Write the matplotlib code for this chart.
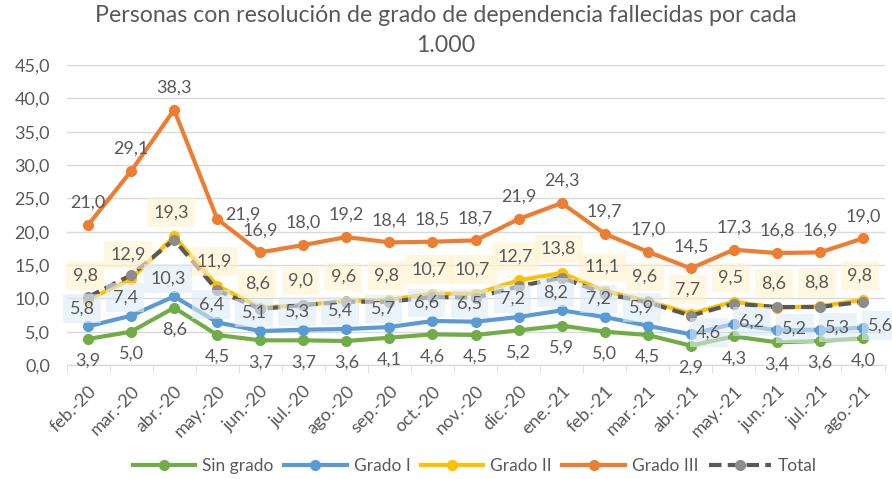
import matplotlib.pyplot as plt
from matplotlib.ticker import FixedLocator, FuncFormatter

plt.rcParams['font.family'] = ['Lato', 'DejaVu Sans']

TEXT = '#595959'

months = ['feb.-20', 'mar.-20', 'abr.-20', 'may.-20', 'jun.-20', 'jul.-20',
          'ago.-20', 'sep.-20', 'oct.-20', 'nov.-20', 'dic.-20', 'ene.-21',
          'feb.-21', 'mar.-21', 'abr.-21', 'may.-21', 'jun.-21', 'jul.-21',
          'ago.-21']

sin_grado = [3.9, 5.0, 8.6, 4.5, 3.7, 3.7, 3.6, 4.1, 4.6, 4.5, 5.2, 5.9,
             5.0, 4.5, 2.9, 4.3, 3.4, 3.6, 4.0]
grado_1 = [5.8, 7.4, 10.3, 6.4, 5.1, 5.3, 5.4, 5.7, 6.6, 6.5, 7.2, 8.2,
           7.2, 5.9, 4.6, 6.2, 5.2, 5.3, 5.6]
grado_2 = [9.8, 12.9, 19.3, 11.9, 8.6, 9.0, 9.6, 9.8, 10.7, 10.7, 12.7, 13.8,
           11.1, 9.6, 7.7, 9.5, 8.6, 8.8, 9.8]
grado_3 = [21.0, 29.1, 38.3, 21.9, 16.9, 18.0, 19.2, 18.4, 18.5, 18.7, 21.9,
           24.3, 19.7, 17.0, 14.5, 17.3, 16.8, 16.9, 19.0]
total = [10.2, 13.5, 18.8, 11.2, 8.4, 9.0, 9.5, 9.5, 10.2, 10.1, 11.8, 13.1,
         10.7, 9.4, 7.4, 9.2, 8.7, 8.7, 9.5]


def fmt(v):
    return f'{v:.1f}'.replace('.', ',')


fig = plt.figure(figsize=(8.92, 4.79), dpi=100)
ax = fig.add_axes([0.0746, 0.238, 0.917, 0.626])
x = list(range(len(months)))

series = [
    ('Sin grado', sin_grado, '#70AD47'),
    ('Grado I', grado_1, '#5B9BD5'),
    ('Grado II', grado_2, '#FFC000'),
    ('Grado III', grado_3, '#ED7D31'),
]
for name, vals, color in series:
    ax.plot(x, vals, color=color, lw=3, marker='o', ms=7, label=name,
            zorder=3)
ax.plot(x, total, color='#595959', lw=3, ls=(0, (3, 1.5)), marker='o', ms=7,
        mfc='#8C8C8C', mec='#8C8C8C', label='Total', zorder=4)

label_kw = dict(textcoords='offset pixels', ha='center', va='center',
                fontsize=13, color=TEXT, zorder=6)

for i, v in enumerate(grado_3):
    off = (26, 4) if i == 3 else (0, 22)
    ax.annotate(fmt(v), (i, v), xytext=off, **label_kw)

for i, v in enumerate(grado_2):
    ax.annotate(fmt(v), (i, v), xytext=(-3, 24), **label_kw,
                bbox=dict(boxstyle='square,pad=0.35', fc='#FFF2CC',
                          ec='none', alpha=0.6))

for i, v in enumerate(grado_1):
    off = (18, 2) if i >= 14 else (-6, 18)
    ax.annotate(fmt(v), (i, v), xytext=off, **label_kw,
                bbox=dict(boxstyle='square,pad=0.35', fc='#DDEBF7',
                          ec='none', alpha=0.6))

for i, v in enumerate(sin_grado):
    ax.annotate(fmt(v), (i, v), xytext=(0, -22), **label_kw)

ax.set_xlim(-0.5, len(months) - 0.5)
ax.set_ylim(0, 45)
ax.set_yticks(range(0, 50, 5))
ax.yaxis.set_major_formatter(FuncFormatter(lambda v, p: fmt(v)))
ax.grid(axis='y', color='#D9D9D9', lw=1)
ax.set_axisbelow(True)

ax.set_xticks(x)
ax.set_xticklabels(months, rotation=45, ha='right', rotation_mode='anchor')
ax.xaxis.set_minor_locator(FixedLocator([i - 0.5 for i in range(len(months) + 1)]))
ax.tick_params(axis='x', which='major', length=0, pad=13, labelsize=13,
               colors=TEXT)
ax.tick_params(axis='x', which='minor', length=6, color='#D9D9D9')
ax.tick_params(axis='y', length=0, labelsize=13, colors=TEXT, pad=12)
for s in ['top', 'right', 'left']:
    ax.spines[s].set_visible(False)
ax.spines['bottom'].set_color('#D9D9D9')

fig.suptitle('Personas con resolución de grado de dependencia fallecidas por cada\n1.000',
             fontsize=16.7, color=TEXT, y=0.99, linespacing=1.55)

fig.legend(loc='center', bbox_to_anchor=(475 / 892, 1 - 466 / 479), ncol=5,
           frameon=False, fontsize=12.5, labelcolor=TEXT, handlelength=3.6,
           columnspacing=0.6, handletextpad=0.4)

fig.savefig('out.png', dpi=100)
